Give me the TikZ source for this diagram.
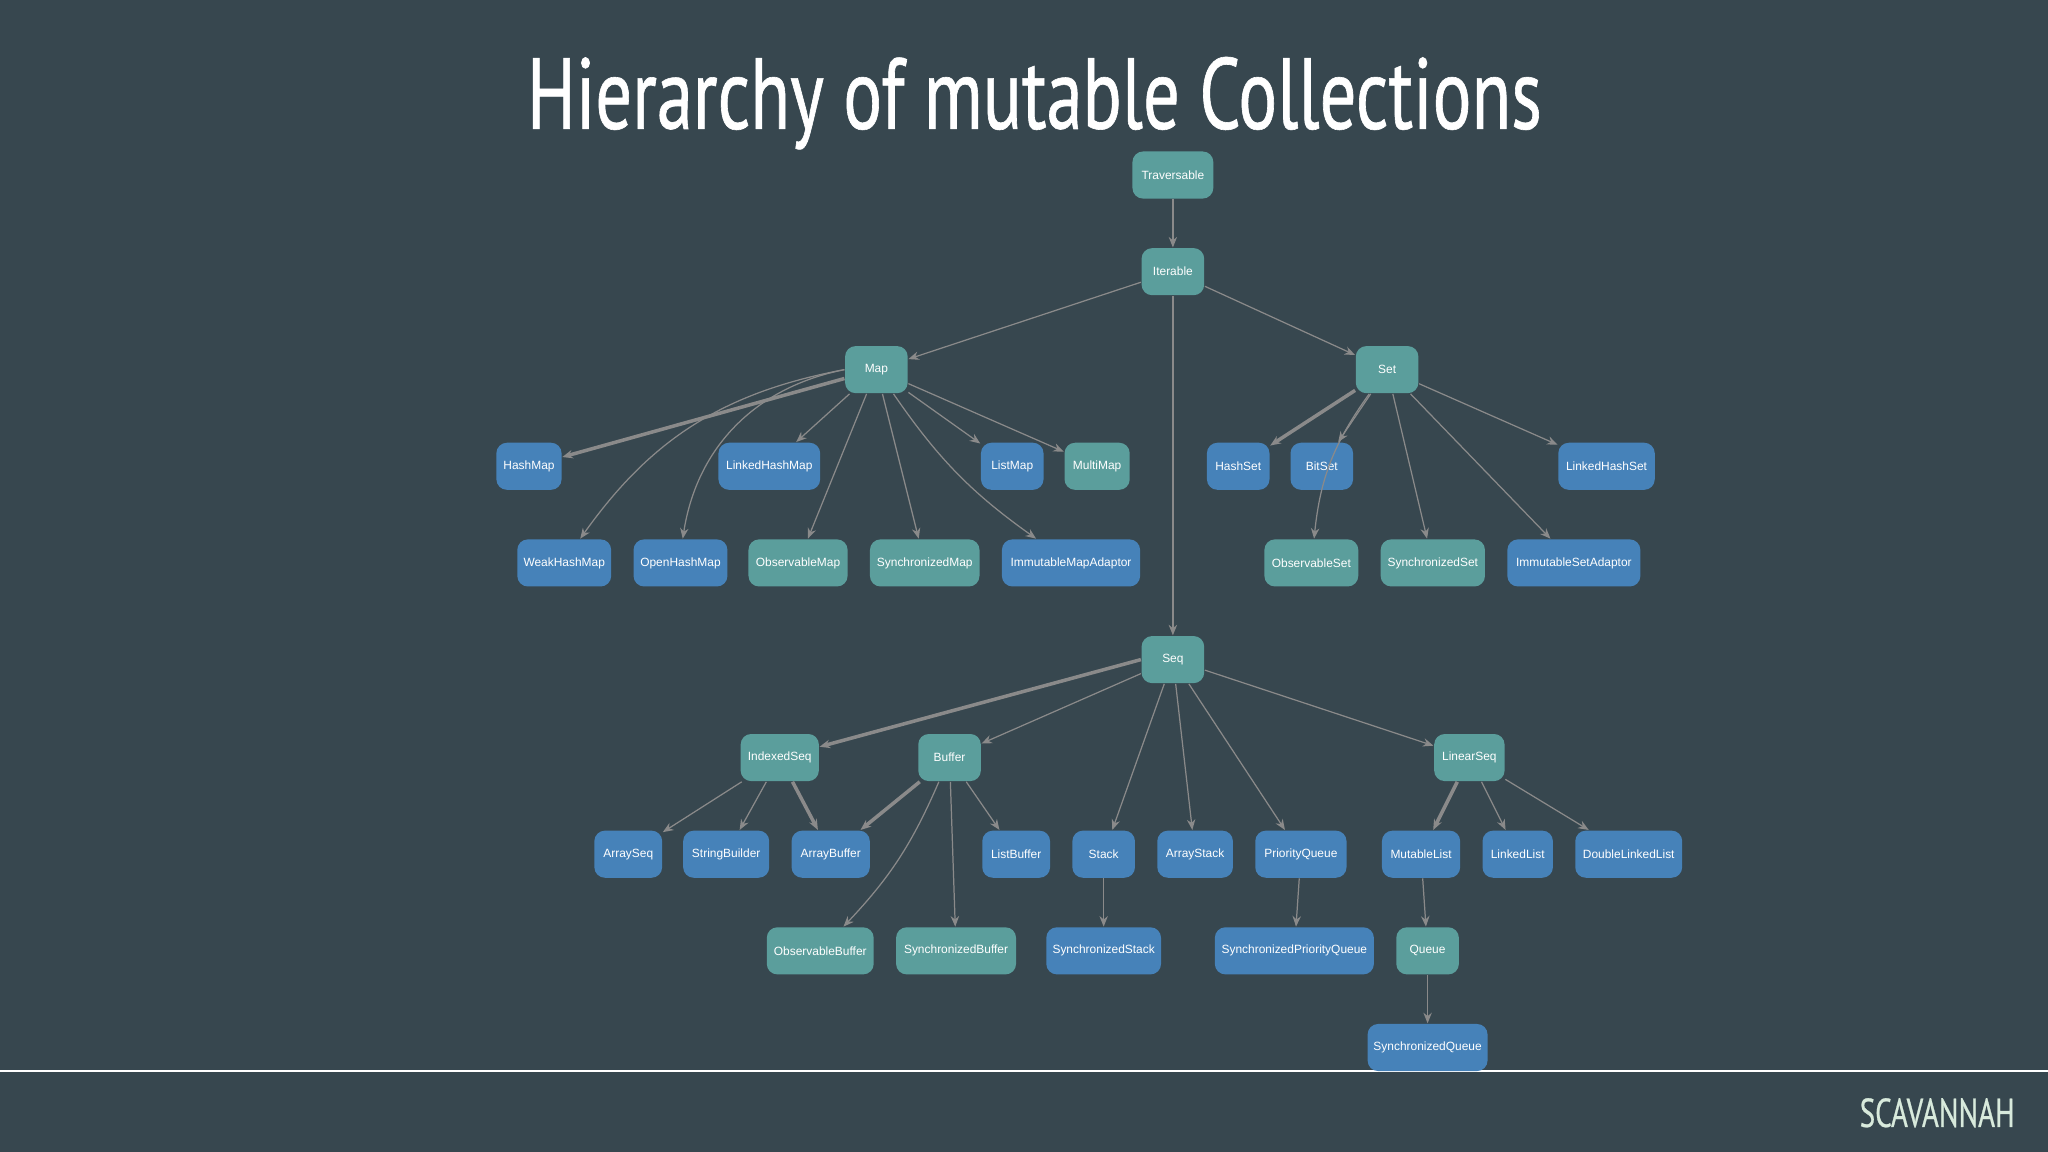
\documentclass[tikz,border=0pt]{standalone}
\usepackage{fontspec}
\setmainfont{Liberation Sans}
\newfontfamily\titlefont[FakeStretch=0.72,FakeBold=0.6]{PT Sans}
\usetikzlibrary{arrows.meta}
\definecolor{bgc}{HTML}{37474F}
\definecolor{tealc}{HTML}{5B9E9C}
\definecolor{bluec}{HTML}{4682B9}
\definecolor{edgec}{HTML}{8A8A8A}
\definecolor{brandc}{HTML}{D8EADC}
\tikzset{
  cls/.style={rounded corners=3pt, minimum height=13.4pt, inner sep=1pt,
    text=white, font=\fontsize{3.4}{4}\selectfont},
  tl/.style={cls, fill=tealc, minimum width=#1*0.371pt},
  bl/.style={cls, fill=bluec, minimum width=#1*0.371pt},
  link/.style={draw=edgec, line width=0.35pt, -{Stealth[length=3pt,width=2.4pt]}},
  strong/.style={link, line width=1pt}
}
\begin{document}
\begin{tikzpicture}[x=0.01306cm, y=-0.01306cm]
\fill[bgc] (0,0) rectangle (1568,882);
\useasboundingbox (0,0) rectangle (1568,882);
\node[text=white, font=\titlefont\fontsize{28.7}{30}\selectfont] (title) at (792,79) {Hierarchy of mutable Collections};
\draw[white, line width=0.5pt] (0,820) -- (1568,820);
\node[text=brandc, font=\titlefont\fontsize{11.5}{12}\selectfont, anchor=east] (brand) at (1552,852) {SCAVANNAH};
% top
\node[tl=62] (trav) at (898,134) {Traversable};
\node[tl=48] (iter) at (898,208) {Iterable};
\node[tl=48] (map) at (671,283) {Map};
\node[tl=48] (set) at (1062,283) {Set};
\node[tl=48] (seq) at (898,505) {Seq};
% maps
\node[bl=50] (hmap) at (405,357) {HashMap};
\node[bl=78] (lhmap) at (589,357) {LinkedHashMap};
\node[bl=48] (lmap) at (775,357) {ListMap};
\node[tl=50] (mmap) at (840,357) {MultiMap};
\node[bl=72] (whmap) at (432,431) {WeakHashMap};
\node[bl=72] (ohmap) at (521,431) {OpenHashMap};
\node[tl=76] (omap) at (611,431) {ObservableMap};
\node[tl=84] (smap) at (708,431) {SynchronizedMap};
\node[bl=106] (imap) at (820,431) {ImmutableMapAdaptor};
% sets
\node[bl=48] (hset) at (948,357) {HashSet};
\node[bl=48] (bset) at (1012,357) {BitSet};
\node[bl=74] (lhset) at (1230,357) {LinkedHashSet};
\node[tl=72] (oset) at (1004,431) {ObservableSet};
\node[tl=80] (sset) at (1097,431) {SynchronizedSet};
\node[bl=102] (iset) at (1205,431) {ImmutableSetAdaptor};
% seqs
\node[tl=60] (iseq) at (597,580) {IndexedSeq};
\node[tl=48] (buf) at (727,580) {Buffer};
\node[tl=54] (linseq) at (1125,580) {LinearSeq};
\node[bl=52] (aseq) at (481,654) {ArraySeq};
\node[bl=66] (sb) at (556,654) {StringBuilder};
\node[bl=60] (abuf) at (636,654) {ArrayBuffer};
\node[bl=52] (lbuf) at (778,654) {ListBuffer};
\node[bl=48] (stack) at (845,654) {Stack};
\node[bl=58] (astack) at (915,654) {ArrayStack};
\node[bl=70] (pq) at (996,654) {PriorityQueue};
\node[bl=60] (mlist) at (1088,654) {MutableList};
\node[bl=54] (llist) at (1162,654) {LinkedList};
\node[bl=82] (dllist) at (1247,654) {DoubleLinkedList};
\node[tl=82] (obuf) at (628,728) {ObservableBuffer};
\node[tl=92] (sbuf) at (732,728) {SynchronizedBuffer};
\node[bl=88] (sstack) at (845,728) {SynchronizedStack};
\node[bl=122] (spq) at (991,728) {SynchronizedPriorityQueue};
\node[tl=48] (queue) at (1093,728) {Queue};
\node[bl=92] (squeue) at (1093,802) {SynchronizedQueue};
% edges
\draw[link] (trav) -- (iter);
\draw[link] (iter) -- (map);
\draw[link] (iter) -- (set);
\draw[link] (iter) -- (seq);
\draw[strong] (map) -- (hmap);
\draw[link] (map.west) to[bend right=22] (whmap);
\draw[link] (map.west) to[bend right=35] (ohmap);
\draw[link] (map) -- (lhmap);
\draw[link] (map) -- (omap);
\draw[link] (map) -- (smap);
\draw[link] (map) to[bend right=10] (imap);
\draw[link] (map) -- (lmap);
\draw[link] (map) -- (mmap);
\draw[strong] (set) -- (hset);
\draw[link] (set) -- (bset);
\draw[link] (set) to[bend right=15] (oset);
\draw[link] (set) -- (sset);
\draw[link] (set) -- (iset);
\draw[link] (set) -- (lhset);
\draw[strong] (seq.west) -- (iseq);
\draw[link] (seq) -- (buf);
\draw[link] (seq) -- (stack);
\draw[link] (seq) -- (astack);
\draw[link] (seq) -- (pq);
\draw[link] (seq) -- (linseq);
\draw[link] (iseq) -- (aseq);
\draw[link] (iseq) -- (sb);
\draw[strong] (iseq) -- (abuf);
\draw[strong] (buf) -- (abuf);
\draw[link] (buf) to[bend left=10] (obuf);
\draw[link] (buf) -- (sbuf);
\draw[link] (buf) -- (lbuf);
\draw[link] (stack) -- (sstack);
\draw[link] (pq) -- (spq);
\draw[strong] (linseq) -- (mlist);
\draw[link] (linseq) -- (llist);
\draw[link] (linseq) -- (dllist);
\draw[link] (mlist) -- (queue);
\draw[link] (queue) -- (squeue);
\end{tikzpicture}
\end{document}
